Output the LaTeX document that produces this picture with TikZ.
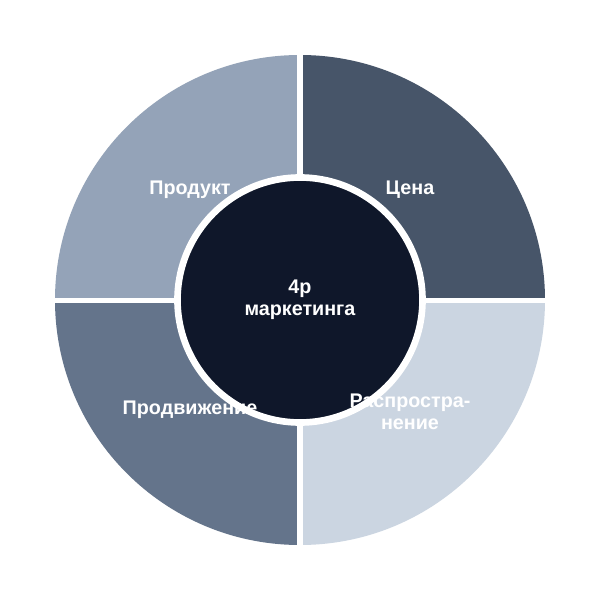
\documentclass[tikz,border=0pt]{standalone}
\usepackage{fontspec}
\setmainfont{Liberation Sans}
\definecolor{qtl}{HTML}{94A3B8}
\definecolor{qtr}{HTML}{475569}
\definecolor{qbl}{HTML}{64748B}
\definecolor{qbr}{HTML}{CBD5E1}
\definecolor{core}{HTML}{0F172A}
\begin{document}
\begin{tikzpicture}[x=0.75pt,y=0.75pt,
  lbl/.style={text=white,font=\fontsize{14.8pt}{16.3pt}\selectfont\bfseries,align=center,inner sep=0pt}]
\useasboundingbox[fill=white] (-300,-300) rectangle (300,300);
\fill[qtr] (0,0) -- (245,0) arc[start angle=0,end angle=90,radius=245] -- cycle;
\fill[qtl] (0,0) -- (0,245) arc[start angle=90,end angle=180,radius=245] -- cycle;
\fill[qbl] (0,0) -- (-245,0) arc[start angle=180,end angle=270,radius=245] -- cycle;
\fill[qbr] (0,0) -- (0,-245) arc[start angle=270,end angle=360,radius=245] -- cycle;
\draw[white,line width=4] (-250,-0.5) -- (250,-0.5);
\draw[white,line width=5] (0,-250) -- (0,250);
\draw[white,line width=5,fill=core] (0,0) circle[radius=122.5];
\node[lbl] (p1) at (-110,110) {Продукт};
\node[lbl] (p2) at (110,110) {Цена};
\node[lbl] (p3) at (-110,-110) {Продвижение};
\node[lbl] (p4) at (110,-112) {Распростра-\\нение};
\node[lbl] (c) at (0,0) {4p\\маркетинга};
\end{tikzpicture}
\end{document}
